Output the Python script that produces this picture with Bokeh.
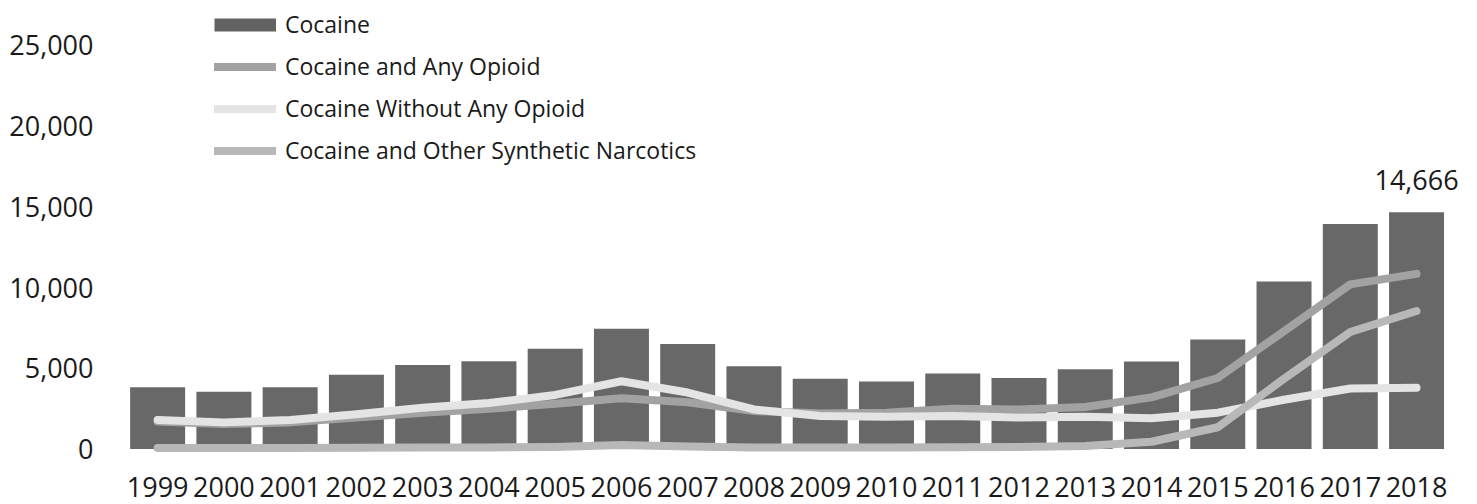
from bokeh.plotting import figure
from bokeh.models import (Range1d, FixedTicker, NumeralTickFormatter,
                          Legend, LegendItem, ColumnDataSource, LabelSet)
from bokeh.core.properties import value
from bokeh.embed import file_html
from bokeh.resources import INLINE

years = list(range(1999, 2019))
cocaine = [3822, 3544, 3833, 4599, 5199, 5443, 6208, 7448, 6512, 5129,
           4350, 4183, 4681, 4404, 4944, 5415, 6784, 10375, 13942, 14666]
any_opioid = [1700, 1550, 1650, 1950, 2250, 2500, 2800, 3150, 2900, 2350,
              2200, 2250, 2500, 2450, 2600, 3200, 4400, 7300, 10200, 10850]
without_opioid = [1800, 1650, 1800, 2150, 2550, 2850, 3350, 4200, 3500, 2450,
                  2050, 2000, 2050, 1950, 2000, 1900, 2250, 3050, 3750, 3800]
synthetic = [60, 60, 70, 80, 90, 100, 130, 250, 150, 100,
             90, 90, 110, 130, 180, 450, 1350, 4350, 7250, 8550]
y_ticks = [0, 5000, 10000, 15000, 20000, 25000]
label_year = 2018
label_value = 14666

FONT = "Open Sans"

src = ColumnDataSource(dict(year=years, cocaine=cocaine, any_opioid=any_opioid,
                            without=without_opioid, synthetic=synthetic))

p = figure(width=1477, height=504, output_backend="svg", toolbar_location=None,
           x_range=Range1d(1998.5, 2018.92),
           y_range=Range1d(-712, 27788),
           min_border_left=124, min_border_right=0, min_border_top=0, min_border_bottom=44)

p.background_fill_color = "white"
p.border_fill_color = "white"
p.outline_line_color = None
p.xgrid.visible = False
p.ygrid.visible = False

bars = p.vbar(x="year", top="cocaine", bottom=0, width=0.83, source=src,
              fill_color="#686868", line_color=None)

l1 = p.line(x="year", y="any_opioid", source=src, line_color="#a2a2a2",
            line_width=8, line_cap="round", line_join="round")
l2 = p.line(x="year", y="without", source=src, line_color="#e4e4e4",
            line_width=8, line_cap="round", line_join="round")
l3 = p.line(x="year", y="synthetic", source=src, line_color="#b8b8b8",
            line_width=8, line_cap="round", line_join="round")

# legend swatch for the bars: a one-point line draws nothing in the plot,
# only its legend glyph is visible
swatch_src = ColumnDataSource(dict(year=years[:1], cocaine=cocaine[:1]))
swatch = p.line(x="year", y="cocaine", source=swatch_src, line_color="#626262",
                line_width=13, line_cap="butt")

lab_src = ColumnDataSource(dict(x=[label_year], y=[label_value], t=[f"{label_value:,}"]))
p.add_layout(LabelSet(x="x", y="y", text="t", source=lab_src,
                      text_font=value(FONT), text_font_size="27px", text_color="#1a1a1a",
                      text_align="center", text_baseline="alphabetic", y_offset=22))

legend = Legend(items=[
    LegendItem(label="Cocaine", renderers=[swatch]),
    LegendItem(label="Cocaine and Any Opioid", renderers=[l1]),
    LegendItem(label="Cocaine Without Any Opioid", renderers=[l2]),
    LegendItem(label="Cocaine and Other Synthetic Narcotics", renderers=[l3]),
], location=(90, 294))
legend.background_fill_alpha = 0
legend.border_line_color = None
legend.padding = 0
legend.margin = 0
legend.spacing = 10
legend.glyph_width = 62
legend.glyph_height = 31
legend.label_height = 31
legend.label_standoff = 9
legend.label_text_font = FONT
legend.label_text_font_size = "23px"
legend.label_text_color = "#1a1a1a"
p.add_layout(legend)

xa = p.xaxis[0]
xa.ticker = FixedTicker(ticks=years)
xa.formatter = NumeralTickFormatter(format="0")
xa.axis_line_color = None
xa.major_tick_line_color = None
xa.minor_tick_line_color = None
xa.major_tick_out = 0
xa.major_tick_in = 0
xa.major_label_standoff = 16
xa.major_label_text_font = FONT
xa.major_label_text_font_size = "27px"
xa.major_label_text_color = "#1a1a1a"

ya = p.yaxis[0]
ya.ticker = FixedTicker(ticks=y_ticks)
ya.formatter = NumeralTickFormatter(format="0,0")
ya.axis_line_color = None
ya.major_tick_line_color = None
ya.minor_tick_line_color = None
ya.major_tick_out = 0
ya.major_tick_in = 0
ya.major_label_standoff = 31
ya.major_label_text_font = FONT
ya.major_label_text_font_size = "27px"
ya.major_label_text_color = "#1a1a1a"

open("out.html", "w").write(file_html(p, INLINE))
